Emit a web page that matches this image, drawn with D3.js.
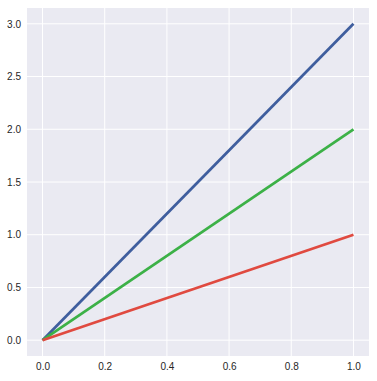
<!DOCTYPE html>
<html><head><meta charset="utf-8">
<script src="https://cdn.jsdelivr.net/npm/d3@7"></script>
<style>body{margin:0;background:#fff;}svg{display:block;}</style>
</head><body>
<svg id="c" width="377" height="381"></svg>
<script>
const xs = [0, 1];
const seriesNames = ["blue", "green", "red"];
const seriesValues = [[0, 3], [0, 2], [0, 1]];
const seriesColors = ["#3F5E9E", "#3CB147", "#E04A40"];
const xTicks = [0.0, 0.2, 0.4, 0.6, 0.8, 1.0];
const yTicks = [0.0, 0.5, 1.0, 1.5, 2.0, 2.5, 3.0];

const svg = d3.select("#c");
const L = 27, R = 369, T = 8, B = 356;
const x = d3.scaleLinear().domain([-0.05, 1.05]).range([L, R]);
const y = d3.scaleLinear().domain([-0.15, 3.15]).range([B, T]);

svg.append("rect").attr("x", L).attr("y", T).attr("width", R - L).attr("height", B - T).attr("fill", "#EAEAF2");

const g = svg.append("g");
g.selectAll(".vx").data(xTicks).join("line")
  .attr("x1", d => x(d)).attr("x2", d => x(d)).attr("y1", T).attr("y2", B)
  .attr("stroke", "#fff").attr("stroke-width", 1);
g.selectAll(".hy").data(yTicks).join("line")
  .attr("y1", d => y(d)).attr("y2", d => y(d)).attr("x1", L).attr("x2", R)
  .attr("stroke", "#fff").attr("stroke-width", 1);

const font = "'Liberation Sans', Arial, sans-serif";
const xAxis = svg.append("g").attr("transform", `translate(0,${B})`)
  .call(d3.axisBottom(x).tickValues(xTicks).tickFormat(d3.format(".1f")).tickSize(0).tickPadding(7));
const yAxis = svg.append("g").attr("transform", `translate(${L},0)`)
  .call(d3.axisLeft(y).tickValues(yTicks).tickFormat(d3.format(".1f")).tickSize(0).tickPadding(6));
[xAxis, yAxis].forEach(a => {
  a.attr("font-family", font).attr("font-size", 10);
  a.select(".domain").remove();
  a.selectAll("text").attr("fill", "#262626");
});

const line = d3.line().x((d, i) => x(xs[i])).y(d => y(d));
svg.selectAll(".series").data(seriesValues).join("path")
  .attr("d", d => line(d)).attr("fill", "none")
  .attr("stroke", (d, i) => seriesColors[i]).attr("stroke-width", 2.7)
  .attr("stroke-linecap", "butt");
</script>
</body></html>
